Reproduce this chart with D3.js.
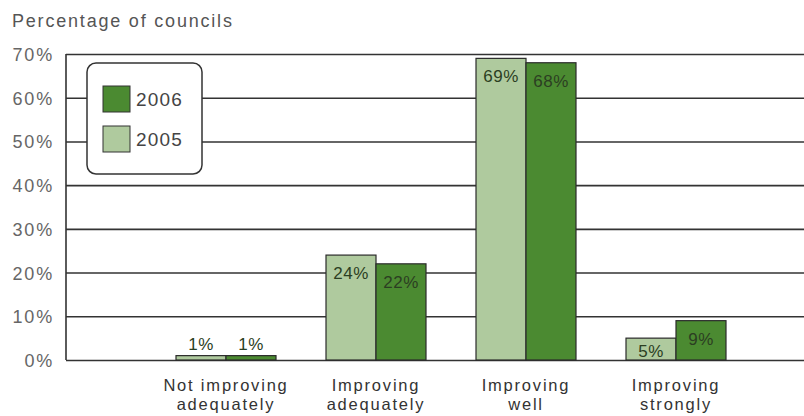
<!DOCTYPE html>
<html>
<head>
<meta charset="utf-8">
<script src="https://cdn.jsdelivr.net/npm/d3@7"></script>
<style>
  body { margin: 0; background: #fff; }
  svg text { font-family: "Liberation Sans", Arial, sans-serif; }
</style>
</head>
<body>
<svg width="804" height="416"></svg>
<script>
const categories = ["Not improving adequately", "Improving adequately", "Improving well", "Improving strongly"];
const categoryLines = [["Not improving", "adequately"], ["Improving", "adequately"], ["Improving", "well"], ["Improving", "strongly"]];
const years = ["2005", "2006"];
const values2005 = [1, 24, 69, 5];
const values2006 = [1, 22, 68, 9];
const yTicks = [0, 10, 20, 30, 40, 50, 60, 70];
const colors = { "2005": "#afca9e", "2006": "#4b8a31" };

const svg = d3.select("svg");
const margin = { top: 54, right: 0, bottom: 56, left: 66 };
const width = +svg.attr("width") - margin.left - margin.right;
const height = +svg.attr("height") - margin.top - margin.bottom;
const g = svg.append("g").attr("transform", `translate(${margin.left},${margin.top})`);

const x = d3.scaleBand().domain(categories).range([85, 685]).paddingInner(1 / 3).paddingOuter(1 / 6);
const x1 = d3.scaleBand().domain(years).range([0, x.bandwidth()]);
const y = d3.scaleLinear().domain([0, 70]).range([height, 0]);

// title
svg.append("text")
  .attr("x", 12).attr("y", 27)
  .attr("fill", "#555").attr("font-size", 18).attr("letter-spacing", 1.8)
  .text("Percentage of councils");

// y axis + gridlines
const yAxis = g.append("g")
  .call(d3.axisLeft(y).tickValues(yTicks).tickFormat(d => d + "%").tickSizeInner(-width).tickSizeOuter(0).tickPadding(12));
yAxis.select(".domain").remove();
yAxis.selectAll(".tick line").attr("stroke", "#333").attr("stroke-width", 1.6);
yAxis.selectAll(".tick text")
  .attr("fill", "#666").attr("font-size", 18).attr("letter-spacing", 1.8).attr("dy", "0.36em");

g.append("line")
  .attr("x1", 0).attr("x2", 0).attr("y1", 0).attr("y2", height)
  .attr("stroke", "#333").attr("stroke-width", 1.6);

// legend
const legend = svg.append("g").attr("transform", "translate(87,63)");
legend.append("rect")
  .attr("width", 115).attr("height", 111).attr("rx", 9)
  .attr("fill", "#fff").attr("stroke", "#333").attr("stroke-width", 1.5);
["2006", "2005"].forEach((yr, i) => {
  const row = legend.append("g").attr("transform", `translate(16,${23 + i * 40})`);
  row.append("rect").attr("width", 27).attr("height", 26)
    .attr("fill", colors[yr]).attr("stroke", "#333").attr("stroke-width", 1);
  row.append("text").attr("x", 33).attr("y", 20)
    .attr("fill", "#444").attr("font-size", 19).attr("letter-spacing", 1.2)
    .text(yr);
});

// bars
const rows = categories.map((c, i) => ({ cat: c, vals: [
  { year: "2005", value: values2005[i] },
  { year: "2006", value: values2006[i] }
] }));

const groups = g.selectAll(".group").data(rows).join("g")
  .attr("class", "group")
  .attr("transform", d => `translate(${x(d.cat)},0)`);

groups.selectAll("rect").data(d => d.vals).join("rect")
  .attr("x", d => x1(d.year))
  .attr("y", d => y(d.value))
  .attr("width", x1.bandwidth())
  .attr("height", d => height - y(d.value))
  .attr("fill", d => colors[d.year])
  .attr("stroke", "#2b2b2b").attr("stroke-width", 1.2);

groups.selectAll(".val").data(d => d.vals).join("text")
  .attr("class", "val")
  .attr("x", d => x1(d.year) + x1.bandwidth() / 2)
  .attr("y", d => {
    const h = height - y(d.value);
    if (h > 30) return y(d.value) + 24;
    if (h > 15) return y(d.value) + h / 2 + 8;
    return y(d.value) - 6;
  })
  .attr("text-anchor", "middle")
  .attr("fill", "#2b3e22").attr("font-size", 17).attr("letter-spacing", 0.5)
  .text(d => d.value + "%");

// category labels, one text per line
categoryLines.forEach((lines, i) => {
  lines.forEach((line, j) => {
    g.append("text")
      .attr("x", x(categories[i]) + x.bandwidth() / 2)
      .attr("y", height + 31 + j * 19)
      .attr("text-anchor", "middle")
      .attr("fill", "#333").attr("font-size", 16.5).attr("letter-spacing", 1.8)
      .text(line);
  });
});
</script>
</body>
</html>
